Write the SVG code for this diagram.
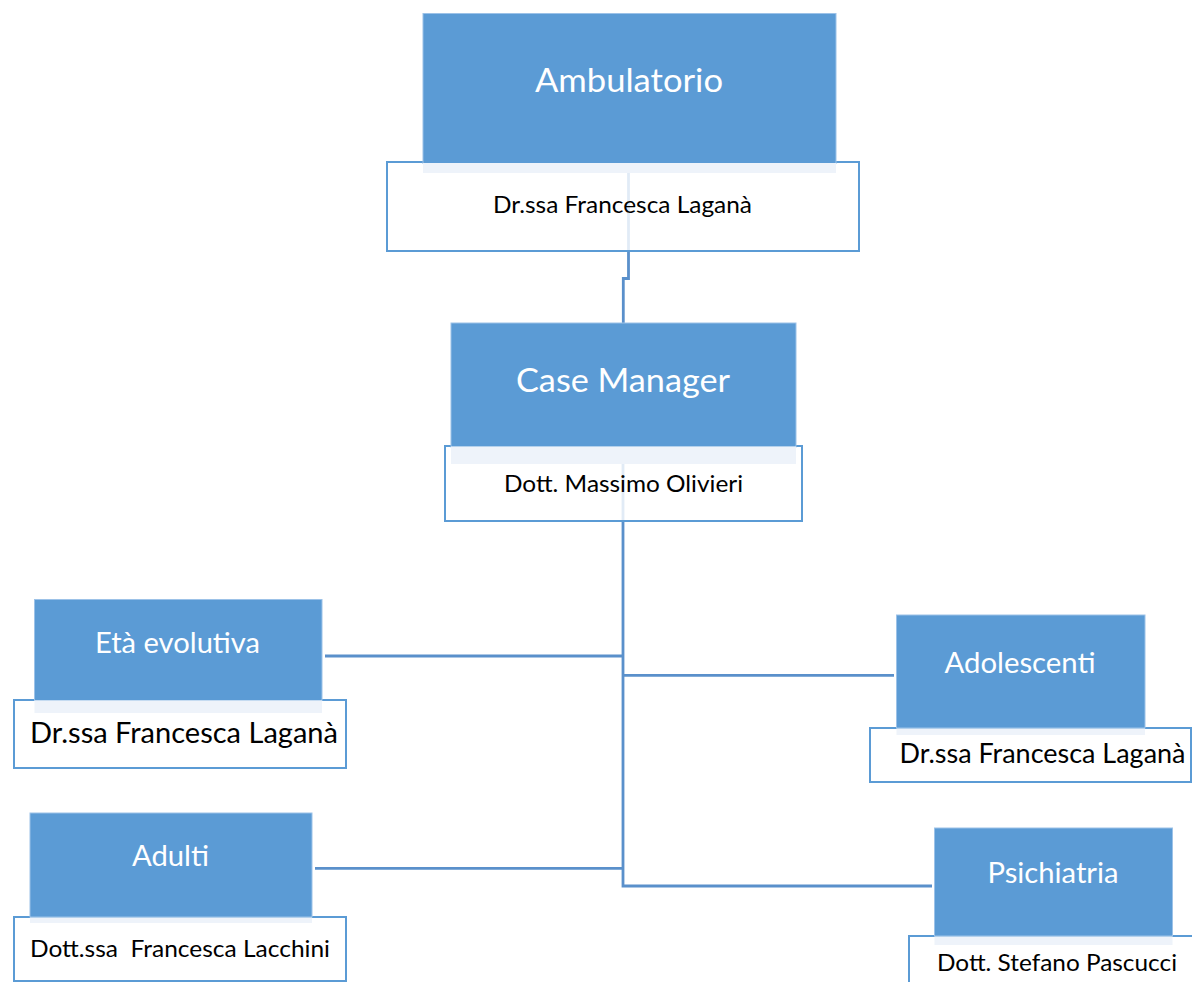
<svg xmlns="http://www.w3.org/2000/svg" width="1192" height="982" viewBox="0 0 1192 982">
<style>
.bg{fill:#ffffff}
.sub{fill:#ffffff;fill-opacity:0.82;stroke:#5B9BD5;stroke-width:2}
.head{fill:#5B9BD5;stroke:#9CC2E8;stroke-width:1}
.strip{fill:#EEF3FA}
.conn{fill:none;stroke:#5A90CB;stroke-width:2.8}
.ht{font-family:Lato,"Liberation Sans",sans-serif;fill:#ffffff;text-anchor:middle}
.st{font-family:Lato,"Liberation Sans",sans-serif;fill:#000000}
</style>
<rect class="bg" x="0" y="0" width="1192" height="982"/>
<g id="connectors">
<path class="conn" d="M628.5,172 V278.5 H623.3 V323"/>
<path class="conn" d="M623,464 V886 H932"/>
<path class="conn" d="M325,656 H623"/>
<path class="conn" d="M315,868.3 H623"/>
<path class="conn" d="M623,675.3 H894"/>
</g>
<g id="ambulatorio">
<rect class="sub" x="387" y="162" width="472" height="89"/>
<rect class="head" x="423" y="13.5" width="413" height="150"/>
<rect class="strip" x="423" y="163" width="413" height="10"/>
<text class="ht" x="629" y="92" font-size="32.5" textLength="188" lengthAdjust="spacingAndGlyphs">Ambulatorio</text>
<text class="st" x="622.5" y="213" font-size="24" text-anchor="middle" textLength="259" lengthAdjust="spacingAndGlyphs">Dr.ssa Francesca Laganà</text>
</g>
<g id="case-manager">
<rect class="sub" x="445" y="446" width="357" height="75"/>
<rect class="head" x="451" y="323" width="345" height="124"/>
<rect class="strip" x="451" y="446.5" width="345" height="17.5"/>
<text class="ht" x="623" y="392" font-size="33" textLength="214" lengthAdjust="spacingAndGlyphs">Case Manager</text>
<text class="st" x="623.5" y="492" font-size="24" text-anchor="middle" textLength="239" lengthAdjust="spacingAndGlyphs">Dott. Massimo Olivieri</text>
</g>
<g id="eta-evolutiva">
<rect class="sub" x="14" y="700" width="332" height="68"/>
<rect class="head" x="34.5" y="599.5" width="287.5" height="101"/>
<rect class="strip" x="34.5" y="700.5" width="287.5" height="12.5"/>
<text class="ht" x="177.5" y="653" font-size="28" textLength="165" lengthAdjust="spacingAndGlyphs">Età evolutiva</text>
<text class="st" x="30" y="743" font-size="28" textLength="308" lengthAdjust="spacingAndGlyphs">Dr.ssa Francesca Laganà</text>
</g>
<g id="adulti">
<rect class="sub" x="14" y="917" width="332" height="64"/>
<rect class="head" x="30" y="813" width="282" height="104"/>
<rect class="strip" x="30" y="917.5" width="282" height="5.5"/>
<text class="ht" x="170.5" y="866" font-size="28.5" textLength="77" lengthAdjust="spacingAndGlyphs">Adulti</text>
<text class="st" x="30" y="957" font-size="24" textLength="300" lengthAdjust="spacingAndGlyphs" xml:space="preserve">Dott.ssa  Francesca Lacchini</text>
</g>
<g id="adolescenti">
<rect class="sub" x="870" y="728" width="321" height="54"/>
<rect class="head" x="896.5" y="615" width="248.5" height="113"/>
<rect class="strip" x="896.5" y="728.5" width="248.5" height="6.5"/>
<text class="ht" x="1020" y="673" font-size="28.5" textLength="151" lengthAdjust="spacingAndGlyphs">Adolescenti</text>
<text class="st" x="899.5" y="763" font-size="26" textLength="286" lengthAdjust="spacingAndGlyphs">Dr.ssa Francesca Laganà</text>
</g>
<g id="psichiatria">
<rect class="sub" x="909" y="936" width="300" height="60"/>
<rect class="head" x="934.5" y="828" width="238" height="108"/>
<rect class="strip" x="934.5" y="936.5" width="238" height="8.5"/>
<text class="ht" x="1053" y="883" font-size="28" textLength="131" lengthAdjust="spacingAndGlyphs">Psichiatria</text>
<text class="st" x="937" y="971" font-size="24" textLength="240" lengthAdjust="spacingAndGlyphs">Dott. Stefano Pascucci</text>
</g>
</svg>
